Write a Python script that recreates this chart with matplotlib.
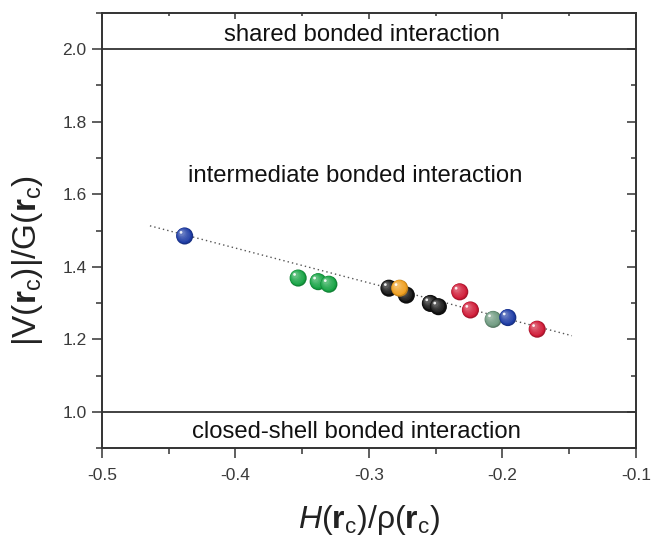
import matplotlib
matplotlib.use("Agg")
import matplotlib.pyplot as plt
import numpy as np
from matplotlib.transforms import offset_copy
from matplotlib.colors import to_rgb

plt.rcParams['font.family'] = ['Liberation Sans', 'DejaVu Sans']
plt.rcParams['mathtext.fontset'] = 'custom'
plt.rcParams['mathtext.rm'] = 'Liberation Sans'
plt.rcParams['mathtext.it'] = 'Liberation Sans:italic'
plt.rcParams['mathtext.bf'] = 'Liberation Sans:bold'

# data
x_vals = [-0.438, -0.353, -0.338, -0.330, -0.285, -0.272, -0.277, -0.254, -0.248,
          -0.232, -0.224, -0.207, -0.196, -0.174]
y_vals = [1.485, 1.369, 1.359, 1.352, 1.341, 1.322, 1.341, 1.299, 1.290,
          1.331, 1.281, 1.255, 1.260, 1.228]
colors = ['#1f3da6', '#18a445', '#18a445', '#18a445', '#121212', '#121212', '#f0a020',
          '#121212', '#121212', '#d01c38', '#d01c38', '#6f9a80', '#1f3da6', '#d01c38']
trend_x = [-0.464, -0.148]
trend_y = [1.513, 1.210]
region_levels = [2.0, 1.0]
region_text = ['shared bonded interaction', 'intermediate bonded interaction',
               'closed-shell bonded interaction']
region_text_x = [-0.305, -0.310, -0.309]
region_text_y = [2.040, 1.650, 0.945]
xticks = [-0.5, -0.4, -0.3, -0.2, -0.1]
yticks = [1.0, 1.2, 1.4, 1.6, 1.8, 2.0]

fig = plt.figure(figsize=(6.53, 5.38), dpi=100)
ax = fig.add_axes([0.156, 0.167, 0.818, 0.809])
ax.set_xlim(-0.5, -0.1)
ax.set_ylim(0.9, 2.1)

for lvl in region_levels:
    ax.axhline(lvl, color='#333333', lw=1.3, zorder=1)

ax.plot(trend_x, trend_y, color='#555555', lw=1.0, ls=(0, (1, 2.2)), zorder=2)

for t, tx, ty in zip(region_text, region_text_x, region_text_y):
    ax.text(tx, ty, t, ha='center', va='center', fontsize=17.2, color='#111111')

# spheres
size_pt = 12.3
def mix(c, w, f):
    c = np.array(to_rgb(c)); w = np.array(to_rgb(w))
    return tuple(c * (1 - f) + w * f)

nl = 7
z = 3
for xv, yv, c in zip(x_vals, y_vals, colors):
    ax.scatter([xv], [yv], s=size_pt**2, color=mix(c, '#000000', 0.2), edgecolors='none', zorder=z)
    z += 0.01
    for i in range(1, nl):
        t = i / nl
        d = size_pt * (1 - 0.75 * t)
        off = (size_pt - d) / 2 * 0.75
        tr = offset_copy(ax.transData, fig=fig, x=-off * 0.7, y=off * 0.7, units='points')
        col = mix(c, '#ffffff', 0.05 + 0.35 * t ** 2) if i > 1 else c
        ax.scatter([xv], [yv], s=d**2, color=col, edgecolors='none', transform=tr, zorder=z)
        z += 0.01
    tr = offset_copy(ax.transData, fig=fig, x=-2.6, y=2.6, units='points')
    ax.scatter([xv], [yv], s=2.0**2, color='#ffffff', edgecolors='none', transform=tr, zorder=z, alpha=0.9)
    z += 0.01

ax.set_xticks(xticks)
ax.set_xticklabels([f'{v:.1f}' for v in xticks])
ax.set_yticks(yticks)
ax.set_yticklabels([f'{v:.1f}' for v in yticks])
ax.xaxis.set_minor_locator(matplotlib.ticker.MultipleLocator(0.05))
ax.yaxis.set_minor_locator(matplotlib.ticker.MultipleLocator(0.1))
ax.tick_params(which='major', direction='out', length=7, width=1.1, labelsize=12.5,
               colors='#333333', labelcolor='#3a3a3a')
ax.tick_params(which='minor', direction='out', length=4, width=1.1, colors='#333333')
ax.tick_params(axis='x', which='major', pad=7)
ax.tick_params(axis='y', which='major', pad=4)

sec_x = ax.secondary_xaxis('top')
sec_x.set_xticks(xticks)
sec_x.set_xticklabels([])
sec_x.xaxis.set_minor_locator(matplotlib.ticker.MultipleLocator(0.05))
sec_x.tick_params(which='major', direction='in', length=4, width=1.1, colors='#333333')
sec_x.tick_params(which='minor', direction='in', length=2.5, width=1.1, colors='#333333')
sec_x.spines['top'].set_visible(False)

sec_y = ax.secondary_yaxis('right')
sec_y.set_yticks(yticks)
sec_y.set_yticklabels([])
sec_y.yaxis.set_minor_locator(matplotlib.ticker.MultipleLocator(0.1))
sec_y.tick_params(which='major', direction='in', length=6.5, width=1.1, colors='#333333')
sec_y.tick_params(which='minor', direction='in', length=3.5, width=1.1, colors='#333333')
sec_y.spines['right'].set_visible(False)

for sp in ax.spines.values():
    sp.set_linewidth(1.4)
    sp.set_color('#333333')

ax.set_xlabel(r'$H(\mathbf{r}_{\mathrm{c}})/\mathrm{\rho}(\mathbf{r}_{\mathrm{c}})$', fontsize=23, labelpad=15, color='#222222')
ax.set_ylabel(r'$\mathrm{|V(}\mathbf{r}_{\mathrm{c}}\mathrm{)|/G(}\mathbf{r}_{\mathrm{c}}\mathrm{)}$', fontsize=24, color='#222222',
              va='center')
ax.yaxis.set_label_coords(-0.139, 0.432)

fig.savefig('out.png', dpi=100)
